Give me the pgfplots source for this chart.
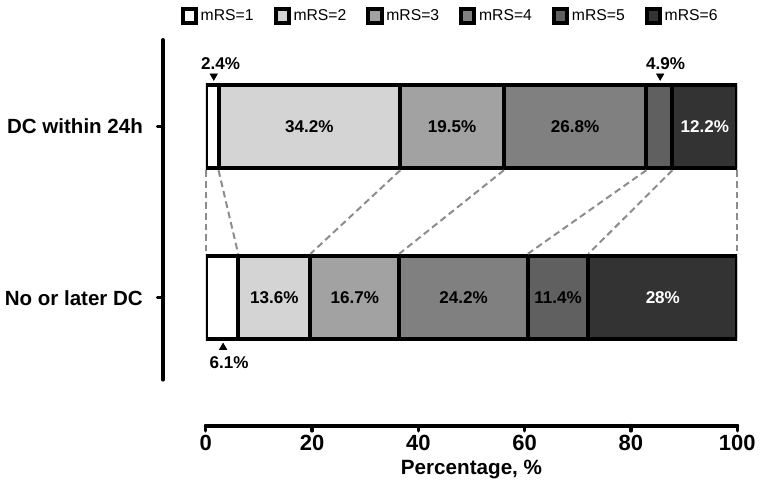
\documentclass[border=0pt]{standalone}
\usepackage{pgfplots}
\pgfplotsset{compat=1.18}
\usepackage{pgfplotstable}
\usepackage{fontspec}
\setmainfont{Liberation Sans}

\definecolor{c1}{RGB}{255,255,255}
\definecolor{c2}{RGB}{212,212,212}
\definecolor{c3}{RGB}{162,162,162}
\definecolor{c4}{RGB}{128,128,128}
\definecolor{c5}{RGB}{96,96,96}
\definecolor{c6}{RGB}{51,51,51}
\definecolor{dashgray}{RGB}{140,140,140}

\pgfplotstableread{
cat m1 m2 m3 m4 m5 m6
0 6.1 13.6 16.7 24.2 11.4 28
1 2.4 34.2 19.5 26.8 4.9 12.2
}\mrsdata

\pgfplotsset{
  base/.style={x=3.99pt, y=128.625pt, xmin=0, xmax=100, ymin=-0.478, ymax=1.504, enlargelimits=false},
  seg/.style={draw=black, line width=3pt, fill=#1,
    legend image code/.code={\draw[draw=black, line width=3pt, fill=#1] (0pt,-5pt) rectangle (10pt,5pt);}},
  dl/.style={draw=dashgray, line width=1.5pt, dash pattern=on 5pt off 3pt, mark=none},
}

\begin{document}
\begin{tikzpicture}
\begin{axis}[base,
  xbar stacked, bar width=62pt,
  axis x line*=bottom, axis y line*=left,
  axis x line shift=34.5pt, axis y line shift=32.25pt,
  x axis line style={-, line width=3pt, line cap=round},
  y axis line style={-, line width=3pt, line cap=round},
  xtick={0,20,...,100}, ytick={0,1},
  yticklabels={No or later DC, DC within 24h},
  tick align=outside, major tick length=4pt,
  tick style={line width=2.5pt, black, line cap=round},
  /pgf/number format/assume math mode=true,
  xticklabel style={font=\fontsize{16.5}{18}\selectfont\bfseries},
  yticklabel style={font=\fontsize{15.4}{17}\selectfont\bfseries, xshift=-7.5pt},
  xlabel={Percentage, \%},
  xlabel style={font=\fontsize{15.5}{17}\selectfont\bfseries},
  legend columns=-1,
  legend style={at={(0.4605,1.0707)}, anchor=center, draw=none, fill=none,
    font=\fontsize{11.8}{13}\selectfont,
    /tikz/every even column/.append style={column sep=13pt}},
]
\addplot[seg=c1] table[x=m1, y=cat] {\mrsdata};
\addlegendentry{mRS=1}
\addplot[seg=c2] table[x=m2, y=cat] {\mrsdata};
\addlegendentry{mRS=2}
\addplot[seg=c3] table[x=m3, y=cat] {\mrsdata};
\addlegendentry{mRS=3}
\addplot[seg=c4] table[x=m4, y=cat] {\mrsdata};
\addlegendentry{mRS=4}
\addplot[seg=c5] table[x=m5, y=cat] {\mrsdata};
\addlegendentry{mRS=5}
\addplot[seg=c6] table[x=m6, y=cat] {\mrsdata};
\addlegendentry{mRS=6}
\end{axis}

\begin{axis}[base, hide axis, clip=false]
\path (axis cs:-38.72,-1.108) rectangle (axis cs:104.14,1.7376);
\addplot[dl] coordinates {(0,0.744) (0,0.256)};
\addplot[dl] coordinates {(2.4,0.744) (6.1,0.256)};
\addplot[dl] coordinates {(36.6,0.744) (19.7,0.256)};
\addplot[dl] coordinates {(56.1,0.744) (36.4,0.256)};
\addplot[dl] coordinates {(82.9,0.744) (60.6,0.256)};
\addplot[dl] coordinates {(87.8,0.744) (72,0.256)};
\addplot[dl] coordinates {(100,0.744) (100,0.256)};
\addplot[only marks, mark=triangle*, mark size=3.2pt, mark options={fill=black, draw=black, rotate=180}]
  coordinates {(1.5,1.294) (85.5,1.294)};
\addplot[only marks, mark=triangle*, mark size=3.2pt, mark options={fill=black, draw=black}]
  coordinates {(3.26,-0.29)};
\addplot[only marks, mark=none, nodes near coords, point meta=explicit symbolic,
  every node near coord/.append style={anchor=center, font=\fontsize{12.8}{14}\selectfont\bfseries, text=black}]
  coordinates {(19.5,1) [34.2\%] (46.35,1) [19.5\%] (69.5,1) [26.8\%]
               (12.9,0) [13.6\%] (28.05,0) [16.7\%] (48.5,0) [24.2\%] (66.3,0) [11.4\%]
               (2.8,1.364) [2.4\%] (86.5,1.364) [4.9\%] (4.4,-0.377) [6.1\%]};
\addplot[only marks, mark=none, nodes near coords, point meta=explicit symbolic,
  every node near coord/.append style={anchor=center, font=\fontsize{12.8}{14}\selectfont\bfseries, text=white}]
  coordinates {(93.9,1) [12.2\%] (86,0) [28\%]};
\end{axis}
\end{tikzpicture}
\end{document}
